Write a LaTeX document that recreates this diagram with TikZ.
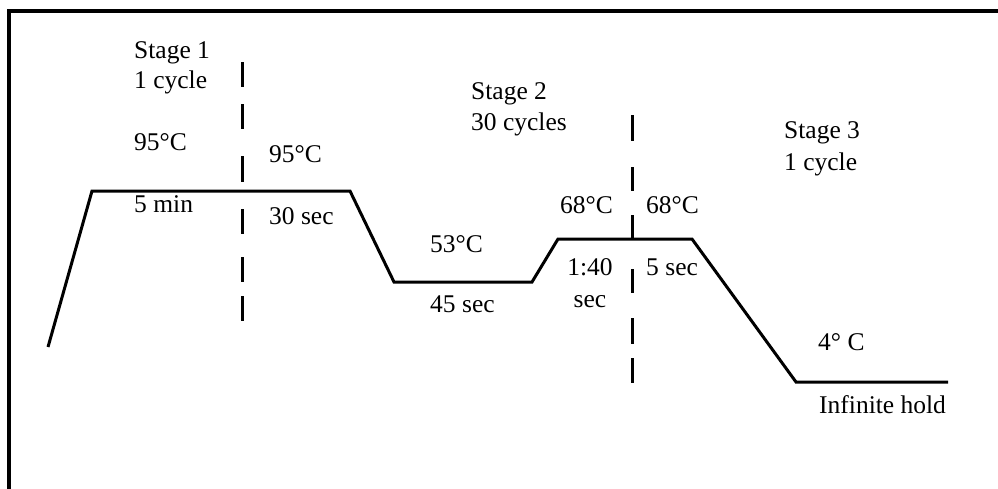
\documentclass[tikz,border=0pt]{standalone}
\usepackage{fontspec}
\setmainfont{Liberation Serif}
\begin{document}
\begin{tikzpicture}[x=1pt,y=-1pt,
  lbl/.style={anchor=base west,inner sep=0pt,font=\fontsize{25.5}{30}\selectfont},
  lblc/.style={anchor=base,inner sep=0pt,font=\fontsize{25.5}{30}\selectfont},
  prof/.style={line width=3pt,line join=miter,line cap=butt},
  dsh/.style={line width=3pt},
  frame/.style={line width=3.5pt}]
\useasboundingbox (0,0) rectangle (998,488);
\begin{scope}
\clip (0,0) rectangle (998,488);
% frame (top and left edges only)
\draw[frame] (9,500) -- (9,11) -- (1010,11);
% temperature profile
\coordinate (p0) at (48,347);
\coordinate (p1) at (92,191);
\coordinate (p2) at (350,191);
\coordinate (p3) at (394,282);
\coordinate (p4) at (532,282);
\coordinate (p5) at (558,239);
\coordinate (p6) at (692,239);
\coordinate (p7) at (796,382);
\coordinate (p8) at (948,382);
\draw[prof] (p0) -- (p1) -- (p2) -- (p3) -- (p4) -- (p5) -- (p6) -- (p7) -- (p8);
% dashed separator 1
\foreach \a/\b in {62/87,104/129,156/182,209/234,257/282,296/321}
  \draw[dsh] (242,\a) -- (242,\b);
% dashed separator 2
\foreach \a/\b in {115/141,167/191,215/240,269/293,318/344,358/383}
  \draw[dsh] (632,\a) -- (632,\b);
\end{scope}
% labels
\node[lbl] (s1a) at (134,58) {Stage 1};
\node[lbl] (s1b) at (134,88) {1 cycle};
\node[lbl] (t1) at (134,150) {95°C};
\node[lbl] (d1) at (134,212) {5 min};
\node[lbl] (t2) at (269,162) {95°C};
\node[lbl] (d2) at (269,224) {30 sec};
\node[lbl] (s2a) at (471,99) {Stage 2};
\node[lbl] (s2b) at (471,130) {30 cycles};
\node[lbl] (t3) at (430,252) {53°C};
\node[lbl] (d3) at (430,312) {45 sec};
\node[lbl] (t4) at (560,213) {68°C};
\node[lblc] (d4a) at (590,275) {1:40};
\node[lblc] (d4b) at (590,307) {sec};
\node[lbl] (t5) at (646,213) {68°C};
\node[lbl] (d5) at (646,275) {5 sec};
\node[lbl] (s3a) at (784,138) {Stage 3};
\node[lbl] (s3b) at (784,170) {1 cycle};
\node[lbl] (t6) at (818,350) {4° C};
\node[lbl] (d6) at (819,413) {Infinite hold};
\end{tikzpicture}
\end{document}
